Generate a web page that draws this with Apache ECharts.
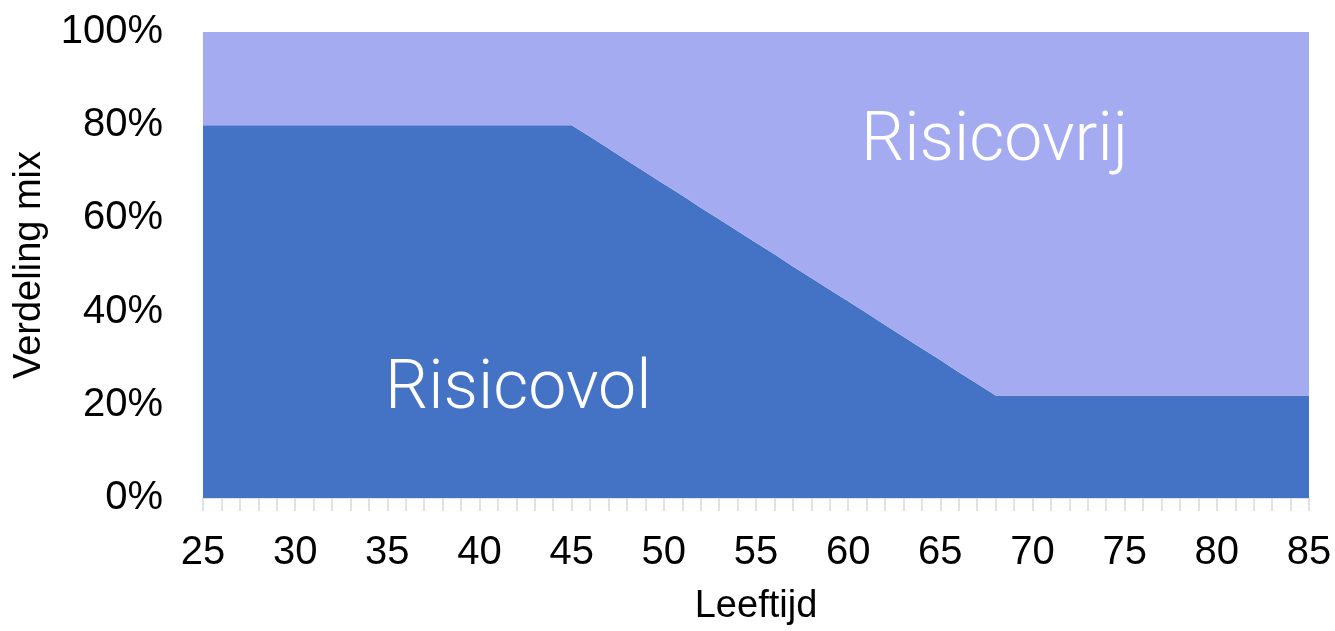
<!DOCTYPE html>
<html><head><meta charset="utf-8">
<script src="https://cdn.jsdelivr.net/npm/echarts@6/dist/echarts.min.js"></script>
<style>html,body{margin:0;padding:0;background:#fff}#c{width:1335px;height:631px}</style>
</head><body><div id="c"></div>
<script>
const ages = [25,26,27,28,29,30,31,32,33,34,35,36,37,38,39,40,41,42,43,44,45,46,47,48,49,50,51,52,53,54,55,56,57,58,59,60,61,62,63,64,65,66,67,68,69,70,71,72,73,74,75,76,77,78,79,80,81,82,83,84,85];
const risicovol = [80,80,80,80,80,80,80,80,80,80,80,80,80,80,80,80,80,80,80,80,80,77.5,75.0,72.4,69.9,67.4,64.9,62.3,59.8,57.3,54.8,52.3,49.7,47.2,44.7,42.2,39.7,37.1,34.6,32.1,29.6,27.0,24.5,22,22,22,22,22,22,22,22,22,22,22,22,22,22,22,22,22,22];
const risicovrij = [20,20,20,20,20,20,20,20,20,20,20,20,20,20,20,20,20,20,20,20,20,22.5,25.0,27.6,30.1,32.6,35.1,37.7,40.2,42.7,45.2,47.7,50.3,52.8,55.3,57.8,60.3,62.9,65.4,67.9,70.4,73.0,75.5,78,78,78,78,78,78,78,78,78,78,78,78,78,78,78,78,78,78];
const yTicks = [0,20,40,60,80,100];
const font = "'Helvetica Neue', Helvetica, 'Liberation Sans', Arial, sans-serif";
const chart = echarts.init(document.getElementById('c'));
chart.setOption({
  animation:false,
  grid:{left:203,right:26,top:32,bottom:133,outerBoundsMode:'none',containLabel:false},
  xAxis:{type:'category',data:ages.map(String),boundaryGap:false,
    name:'Leeftijd',nameLocation:'middle',nameGap:90,
    nameTextStyle:{fontSize:38,color:'#000',fontFamily:font},
    axisLine:{show:true,lineStyle:{color:'#d9d9d9',width:1.5}},
    axisTick:{show:true,interval:0,length:13,lineStyle:{color:'#d9d9d9',width:1.5}},
    splitLine:{show:false},
    axisLabel:{interval:4,fontSize:40,color:'#000',margin:35,fontFamily:font}
  },
  yAxis:{type:'value',min:yTicks[0],max:yTicks[yTicks.length-1],interval:20,
    name:'Verdeling mix',nameLocation:'middle',nameGap:154,nameRotate:90,
    nameTextStyle:{fontSize:38,color:'#000',fontFamily:font},
    axisLine:{show:false},axisTick:{show:false},splitLine:{show:false},
    axisLabel:{fontSize:40,color:'#000',margin:40,formatter:'{value}%',fontFamily:font}
  },
  series:[
    {name:'Risicovol',type:'line',stack:'mix',showSymbol:false,lineStyle:{width:0},
     areaStyle:{color:'#4472c4',opacity:1},data:risicovol},
    {name:'Risicovrij',type:'line',stack:'mix',showSymbol:false,lineStyle:{width:0},
     areaStyle:{color:'#a4abf1',opacity:1},data:risicovrij}
  ],
  graphic:[
    {type:'text',z:100,x:385,y:391,style:{text:'Risicovol',fontSize:68,fill:'#fff',fontFamily:"Roboto, 'Liberation Sans', sans-serif",fontWeight:300,verticalAlign:'middle'}},
    {type:'text',z:100,x:861,y:143,style:{text:'Risicovrij',fontSize:68,fill:'#fff',fontFamily:"Roboto, 'Liberation Sans', sans-serif",fontWeight:300,verticalAlign:'middle'}}
  ]
});
</script></body></html>
